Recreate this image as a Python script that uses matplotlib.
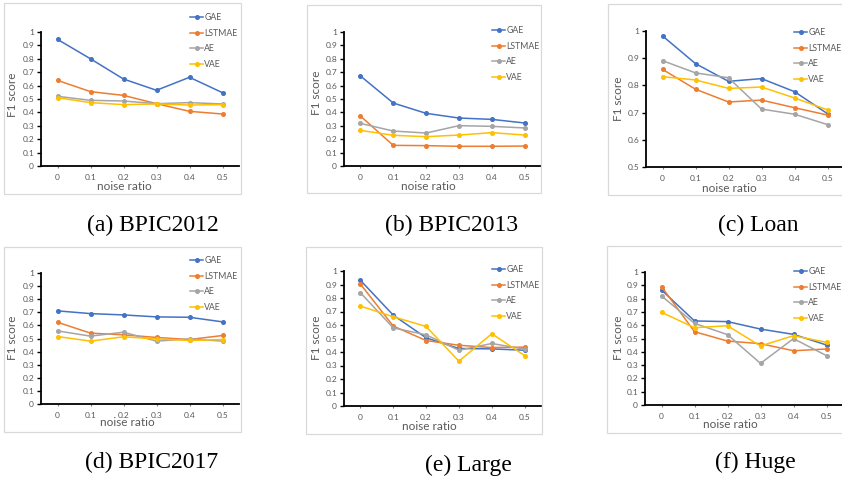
import matplotlib
matplotlib.use("Agg")
import matplotlib.pyplot as plt
from matplotlib.patches import Rectangle

W, H = 842, 479

noise_labels = ["0", "0.1", "0.2", "0.3", "0.4", "0.5"]
series_names = ["GAE", "LSTMAE", "AE", "VAE"]
series_colors = ["#4472C4", "#ED7D31", "#A5A5A5", "#FFC000"]

# rows: GAE, LSTMAE, AE, VAE
bpic2012 = [
    [0.945, 0.800, 0.649, 0.565, 0.662, 0.547],
    [0.639, 0.555, 0.527, 0.465, 0.408, 0.388],
    [0.520, 0.490, 0.485, 0.465, 0.473, 0.463],
    [0.510, 0.473, 0.458, 0.463, 0.455, 0.458],
]
bpic2013 = [
    [0.672, 0.470, 0.393, 0.358, 0.348, 0.321],
    [0.373, 0.154, 0.152, 0.147, 0.147, 0.149],
    [0.318, 0.261, 0.246, 0.301, 0.296, 0.284],
    [0.266, 0.229, 0.219, 0.231, 0.249, 0.231],
]
loan = [
    [0.982, 0.880, 0.815, 0.825, 0.777, 0.696],
    [0.859, 0.786, 0.739, 0.746, 0.718, 0.691],
    [0.891, 0.846, 0.828, 0.713, 0.694, 0.656],
    [0.832, 0.820, 0.789, 0.794, 0.754, 0.710],
]
bpic2017 = [
    [0.711, 0.690, 0.680, 0.665, 0.662, 0.627],
    [0.624, 0.541, 0.528, 0.508, 0.492, 0.523],
    [0.558, 0.518, 0.548, 0.480, 0.497, 0.480],
    [0.515, 0.480, 0.513, 0.497, 0.485, 0.492],
]
large = [
    [0.931, 0.673, 0.505, 0.426, 0.423, 0.413],
    [0.903, 0.592, 0.485, 0.450, 0.433, 0.436],
    [0.839, 0.579, 0.527, 0.413, 0.463, 0.421],
    [0.740, 0.661, 0.589, 0.332, 0.535, 0.374],
]
huge = [
    [0.865, 0.632, 0.627, 0.571, 0.531, 0.451],
    [0.890, 0.551, 0.481, 0.461, 0.408, 0.421],
    [0.820, 0.614, 0.529, 0.313, 0.499, 0.371],
    [0.697, 0.581, 0.596, 0.444, 0.521, 0.471],
]

captions = ["(a) BPIC2012", "(b) BPIC2013", "(c) Loan",
            "(d) BPIC2017", "(e) Large", "(f) Huge"]

# layout in pixels
panels = [
    # data, axes (l,t,r,b), ymin, box (l,t,r,b), legend (x, yc), xlabel (x,y), ylabel (x,y), caption (x,y)
    (bpic2012, (41, 32, 239, 166), 0.0, (4, 3, 241, 194), (190, 41), (124, 186), (13, 95), (153, 225)),
    (bpic2013, (344, 32, 541, 166), 0.0, (307, 5, 541, 193), (492, 54), (428, 186), (317, 93), (452, 225)),
    (loan, (646, 31, 844, 167), 0.5, (608, 4, 845, 195), (794, 56), (729, 188), (618, 99), (758, 225)),
    (bpic2017, (41, 273, 239, 404), 0.0, (4, 247, 241, 432), (190, 284), (127, 423), (13, 338), (152, 462)),
    (large, (344, 271, 541, 406), 0.0, (306, 247, 542, 434), (492, 293), (429, 426), (317, 338), (468, 465)),
    (huge, (645, 272, 843, 405), 0.0, (607, 246, 845, 433), (794, 295), (730, 425), (618, 338), (755, 462)),
]

plt.rcParams['font.family'] = ['Lato', 'DejaVu Sans']
fig = plt.figure(figsize=(W / 100, H / 100), dpi=100)
fig.patch.set_facecolor("white")

def fx(x):
    return x / W

def fy(y):
    return 1 - y / H

for i, (data, ax_px, ymin, box, leg, xl, yl, cap) in enumerate(panels):
    bl, bt, br, bb = box
    fig.add_artist(Rectangle((fx(bl), fy(bb)), fx(br - bl), (bb - bt) / H,
                             transform=fig.transFigure, fill=False,
                             edgecolor="#D9D9D9", linewidth=0.9))

    l, t, r, b = ax_px
    ax = fig.add_axes([fx(l), fy(b), fx(r - l), (b - t) / H])
    ax.patch.set_alpha(0)
    xs = range(len(noise_labels))
    for vals, name, col in zip(data, series_names, series_colors):
        ax.plot(xs, vals, color=col, linewidth=1.1, marker="o",
                markersize=2.6, label=name)
    ax.set_xlim(-0.5, len(noise_labels) - 0.5)
    ax.set_ylim(ymin, 1.0)
    ax.set_xticks(list(xs))
    ax.set_xticklabels(noise_labels)
    n_ticks = int(round((1.0 - ymin) / 0.1)) + 1
    yticks = [ymin + 0.1 * k for k in range(n_ticks)]
    ax.set_yticks(yticks)
    ax.set_yticklabels(["%g" % round(v, 1) for v in yticks])
    for s in ["top", "right"]:
        ax.spines[s].set_visible(False)
    for s in ["left", "bottom"]:
        ax.spines[s].set_linewidth(1.3)
        ax.spines[s].set_color("black")
    ax.tick_params(axis="y", length=3, width=1.0, pad=2, labelsize=6,
                   labelcolor="#595959", color="black")
    ax.tick_params(axis="x", length=1.5, width=0.8, pad=4, labelsize=6,
                   labelcolor="#595959", color="#808080")

    ax.set_xlabel("noise ratio", fontsize=8.5, color="#595959")
    ax.xaxis.set_label_coords((xl[0] - l) / (r - l), (b - xl[1]) / (b - t),
                              transform=ax.transAxes)
    ax.xaxis.label.set_va("center")
    ax.set_ylabel("F1 score", fontsize=8.5, color="#595959")
    ax.yaxis.set_label_coords((yl[0] - l) / (r - l), (b - yl[1]) / (b - t),
                              transform=ax.transAxes)
    ax.yaxis.label.set_va("center")

    ax.legend(loc="center left", bbox_to_anchor=(fx(leg[0]), fy(leg[1])),
              bbox_transform=fig.transFigure, frameon=False, fontsize=6.3,
              handlelength=1.5, handletextpad=0.15, labelspacing=0.78,
              borderpad=0, borderaxespad=0, labelcolor="#595959")

    fig.text(fx(cap[0]), fy(cap[1]), captions[i], ha="center", va="center",
             fontsize=17, family="Liberation Serif", color="black")

fig.savefig("out.png", dpi=100, facecolor="white")
